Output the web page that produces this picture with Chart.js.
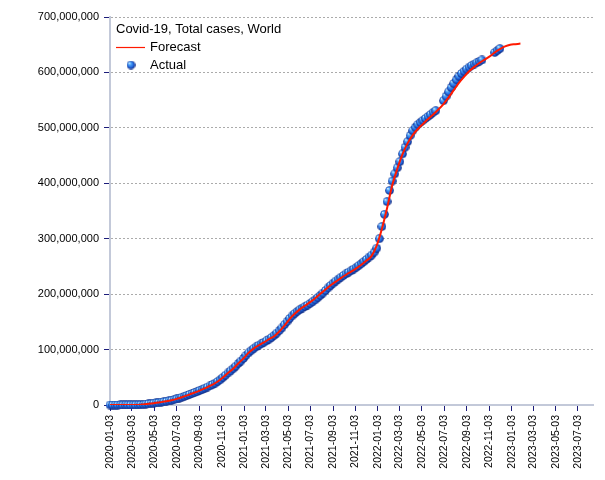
<!DOCTYPE html>
<html><head><meta charset="utf-8">
<script src="https://cdn.jsdelivr.net/npm/chart.js@4/dist/chart.umd.min.js"></script>
<style>html,body{margin:0;padding:0;background:#fff;}#wrap{width:605px;height:480px;position:relative;}canvas{display:block;}</style>
</head><body><div id="wrap"><canvas id="c" width="605" height="480"></canvas></div>
<script>
const chartTitle = 'Covid-19, Total cases, World';
const seriesNames = ['Forecast', 'Actual'];
const startDate = '2020-01-03';
const axisEndDate = '2023-08-13';
const tickLabels = ['2020-01-03','2020-03-03','2020-05-03','2020-07-03','2020-09-03','2020-11-03',
  '2021-01-03','2021-03-03','2021-05-03','2021-07-03','2021-09-03','2021-11-03',
  '2022-01-03','2022-03-03','2022-05-03','2022-07-03','2022-09-03','2022-11-03',
  '2023-01-03','2023-03-03','2023-05-03','2023-07-03'];
const yTickValues = [0, 100000000, 200000000, 300000000, 400000000, 500000000, 600000000, 700000000];

// Actual: one observation per week from startDate, in millions of cases (null = no observation)
const actualMillions = [
  0, 0, 0, 0, 0.01, 0.03, 0.05, 0.08, 0.08, 0.1,
  0.14, 0.27, 0.59, 1.0, 1.6, 2.2, 2.8, 3.3, 3.9, 4.5,
  5.2, 5.9, 6.7, 7.6, 8.6, 9.7, 11.0, 12.5, 14.0, 15.7,
  17.3, 19.1, 20.8, 22.5, 24.2, 26.4, 28.3, 30.4, 32.4, 34.6,
  36.8, 39.4, 42.4, 45.6, 49.6, 53.6, 57.8, 61.5, 65.5, 70.0,
  74.9, 79.2, 84.0, 89.5, 94.0, 98.0, 101.7, 105.0, 107.8, 110.4,
  113.0, 115.7, 118.7, 121.9, 125.5, 129.7, 134.2, 139.0, 144.8, 150.5,
  156.0, 160.8, 165.0, 168.8, 172.0, 175.0, 177.6, 180.2, 183.2, 186.3,
  189.7, 193.7, 197.8, 202.0, 206.5, 211.2, 215.5, 219.7, 223.5, 227.0,
  230.4, 233.6, 236.6, 239.5, 242.3, 245.3, 248.4, 251.6, 255.1, 258.8,
  262.7, 266.8, 270.5, 275.8, 283.0, 300.0, 322.0, 344.0, 367.0, 387.0,
  404.0, 417.0, 428.0, 439.0, 453.0, 465.0, 475.0, 486.0, 495.0, 501.0,
  506.0, 510.0, 513.5, 517.0, 520.5, 524.0, 528.0, 531.0, null, null,
  549.0, 557.0, 565.0, 573.0, 580.0, 587.0, 593.0, 598.0, 602.0, 606.0,
  609.5, 612.5, 615.0, 617.5, 620.0, 622.5, null, null, null, null,
  636.0, 639.5, 643.0
];

// Forecast: one value every 14 days from startDate, in millions of cases
const forecastMillions = [
  0, 0, 0.01, 0.05, 0.08, 0.15, 0.6, 1.6, 2.8, 3.9,
  5.2, 6.7, 8.6, 11.0, 14.0, 17.3, 20.8, 24.2, 28.3, 32.4,
  36.8, 42.4, 49.6, 57.8, 65.5, 74.9, 84.0, 94.0, 101.7, 107.8,
  113.0, 118.7, 124.0, 132.5, 143.0, 155.0, 164.5, 172.5, 179.0, 185.5,
  192.5, 200.5, 208.5, 216.0, 222.5, 229.0, 235.0, 240.5, 246.5, 253.0,
  260.5, 269.0, 288.0, 318.0, 355.0, 396.0, 426.0, 452.0, 472.0, 487.0,
  498.0, 507.0, 516.0, 524.0, 533.0, 543.0, 555.0, 568.0, 581.0, 592.0,
  602.0, 610.0, 617.0, 623.0, 629.0, 636.0, 642.0, 647.0, 650.0, 651.0, 652.0
];

const MS_DAY = 86400000;
function dayOf(s) {
  const p = s.split('-').map(Number), q = startDate.split('-').map(Number);
  return Math.round((Date.UTC(p[0], p[1]-1, p[2]) - Date.UTC(q[0], q[1]-1, q[2])) / MS_DAY);
}
const tickDays = tickLabels.map(dayOf);
const actualPoints = [];
actualMillions.forEach((v, i) => { if (v !== null) actualPoints.push({x: i * 7, y: v * 1e6}); });
const forecastPoints = forecastMillions.map((v, i) => ({x: i * 14, y: v * 1e6}));

// shaded sphere marker
function makeSphere(size) {
  const cv = document.createElement('canvas');
  cv.width = size; cv.height = size;
  const g = cv.getContext('2d');
  const r = size / 2;
  const grd = g.createRadialGradient(r*0.6, r*0.55, r*0.05, r*1.05, r*1.05, r*1.05);
  grd.addColorStop(0, '#d6f2ff');
  grd.addColorStop(0.28, '#4aa2f8');
  grd.addColorStop(0.62, '#2266dd');
  grd.addColorStop(0.85, '#10308f');
  grd.addColorStop(1, '#061257');
  g.fillStyle = grd;
  g.beginPath(); g.arc(r, r, r - 0.2, 0, Math.PI*2); g.fill();
  return cv;
}
const sphere = makeSphere(9);

const FONT = 'Liberation Sans';
const insideLegend = {
  id: 'insideLegend',
  afterDraw(chart) {
    const ctx = chart.ctx, a = chart.chartArea;
    const ds = chart.data.datasets;
    ctx.save();
    ctx.font = '13px "' + FONT + '"';
    ctx.fillStyle = '#000';
    ctx.textBaseline = 'middle';
    ctx.textAlign = 'left';
    const x0 = a.left + 6;
    ctx.fillText(chartTitle, x0, a.top + 12);
    ctx.strokeStyle = ds[0].borderColor; ctx.lineWidth = 1.2;
    ctx.beginPath(); ctx.moveTo(x0, a.top + 30.5); ctx.lineTo(x0 + 29, a.top + 30.5); ctx.stroke();
    ctx.fillText(ds[0].label, x0 + 34, a.top + 30);
    ctx.drawImage(ds[1].pointStyle, x0 + 15 - 4.5, a.top + 48 - 4.5);
    ctx.fillText(ds[1].label, x0 + 34, a.top + 48);
    ctx.restore();
  }
};

new Chart(document.getElementById('c'), {
  type: 'scatter',
  data: {
    datasets: [
      { label: seriesNames[0], data: forecastPoints, showLine: true, borderColor: '#ff1a00', borderWidth: 2,
        pointRadius: 0, cubicInterpolationMode: 'monotone', fill: false },
      { label: seriesNames[1], data: actualPoints, showLine: false, pointStyle: sphere, pointRadius: 4.5, clip: 8 }
    ]
  },
  options: {
    responsive: false, animation: false, events: [],
    devicePixelRatio: 1,
    layout: { padding: { top: 17, right: 12, left: 0, bottom: 0 } },
    plugins: { legend: { display: false }, tooltip: { enabled: false } },
    scales: {
      x: {
        type: 'linear', min: 0, max: dayOf(axisEndDate),
        afterBuildTicks: s => { s.ticks = tickDays.map(v => ({ value: v })); },
        afterFit: s => { s.height = 75; },
        ticks: { autoSkip: false, minRotation: 90, maxRotation: 90, padding: 4, color: '#000',
          font: { family: FONT, size: 10.5 }, callback: (v, i) => tickLabels[i] },
        grid: { drawOnChartArea: false, tickLength: 6, tickColor: '#1c1c7a', tickWidth: 1 },
        border: { color: '#c3c9d9', width: 2 }
      },
      y: {
        min: 0, max: yTickValues[yTickValues.length - 1],
        afterBuildTicks: s => { s.ticks = yTickValues.map(v => ({ value: v })); },
        afterFit: s => { s.width = 110; },
        ticks: { color: '#000', padding: 5, font: { family: FONT, size: 11 },
          callback: v => Number(v).toLocaleString('en-US') },
        grid: { color: '#ababab', lineWidth: 1, tickLength: 6, tickColor: '#1c1c7a', tickWidth: 1 },
        border: { color: '#c3c9d9', width: 2, dash: [2, 2] }
      }
    }
  },
  plugins: [insideLegend]
});
</script>
</body></html>
